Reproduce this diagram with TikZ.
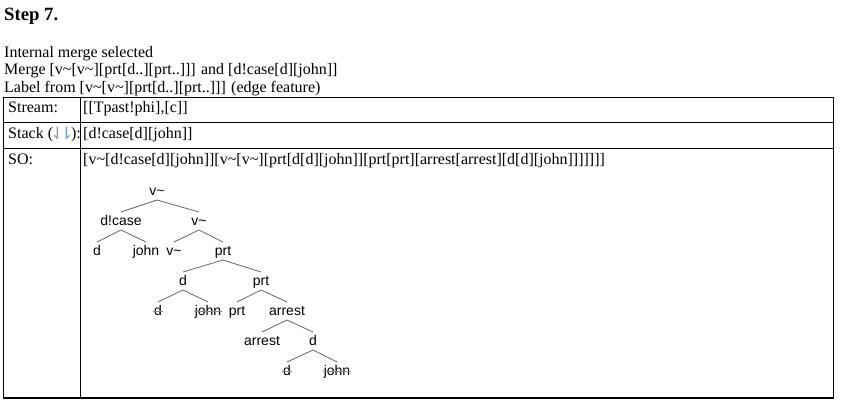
\documentclass[tikz,border=0pt]{standalone}
\usepackage{fontspec}
\setmainfont{Liberation Serif}
\newfontfamily\treefont{Liberation Sans}
\newfontfamily\symfont{DejaVu Sans}
\usetikzlibrary{calc}
\newcommand{\tld}{\char`\~}
\newcommand{\treeedge}[2]{\draw[edgeline] ($(#1.base)+(0,5)$) -- ($(#2.base)+(0,-13)$);}
\newcommand{\strikeout}[1]{\draw[strikeline] ($(#1.base west)+(-0.5,-4)$) -- ($(#1.base east)+(0.5,-4)$);}
\begin{document}
\begin{tikzpicture}[x=1pt,y=-1pt,
  txt/.style={anchor=base west, inner sep=0pt, font=\fontsize{16}{18}\selectfont},
  hd/.style={anchor=base west, inner sep=0pt, font=\fontsize{18.72}{22}\selectfont\bfseries},
  tn/.style={anchor=base, inner sep=0pt, font=\treefont\fontsize{14}{16}\selectfont},
  edgeline/.style={draw=black!60, line width=0.8pt},
  strikeline/.style={draw=black!45, line width=0.8pt},
  rule/.style={line width=1.2pt}
]
\useasboundingbox (0,0) rectangle (841,410);
% heading and lines
\node[hd] (step) at (4,20) {Step 7.};
\node[txt] (l1) at (4,57) {Internal merge selected};
\node[txt] (l2) at (4,74.5) {Merge [v\tld[v\tld][prt[d..][prt..]]] and [d!case[d][john]]};
\node[txt] (l3) at (4,92) {Label from [v\tld[v\tld][prt[d..][prt..]]] (edge feature)};
% table
\draw[rule] (3.5,97.3) rectangle (833.5,398);
\draw[rule] (3.5,122.3) -- (833.5,122.3);
\draw[rule] (3.5,148.3) -- (833.5,148.3);
\draw[rule] (80.5,97.3) -- (80.5,398);
\node[txt] (streamh) at (8,112) {Stream:};
\node[txt] (streamv) at (83,112) {[[Tpast!phi],[c]]};
\node[txt] (stackh) at (8,138) {Stack ({\symfont\fontsize{17}{18}\selectfont\color[HTML]{7F9CC4}\raisebox{-1pt}{\makebox[9pt]{⇃}\makebox[9pt]{⇂}}}):};
\node[txt] (stackv) at (83,138) {[d!case[d][john]]};
\node[txt] (soh) at (8,164) {SO:};
\node[txt] (sov) at (83,164) {[v\tld[d!case[d][john]][v\tld[v\tld][prt[d[d][john]][prt[prt][arrest[arrest][d[d][john]]]]]]]};
% tree
\node[tn] (r) at (157,195) {v\tld};
\node[tn] (dcase) at (121,225) {d!case};
\node[tn] (v1) at (199,225) {v\tld};
\node[tn] (d1) at (97,255) {d};
\node[tn] (j1) at (146,255) {john};
\node[tn] (v2) at (174,255) {v\tld};
\node[tn] (p1) at (223,255) {prt};
\node[tn] (d2) at (183,285) {d};
\node[tn] (p2) at (261,285) {prt};
\node[tn] (d3) at (158,315) {d};
\node[tn] (j3) at (208,315) {john};
\node[tn] (p3) at (237,315) {prt};
\node[tn] (a1) at (287,315) {arrest};
\node[tn] (a2) at (262,345) {arrest};
\node[tn] (d4) at (313,345) {d};
\node[tn] (d5) at (287,375) {d};
\node[tn] (j5) at (337,375) {john};
\treeedge{r}{dcase}
\treeedge{r}{v1}
\treeedge{dcase}{d1}
\treeedge{dcase}{j1}
\treeedge{v1}{v2}
\treeedge{v1}{p1}
\treeedge{p1}{d2}
\treeedge{p1}{p2}
\treeedge{d2}{d3}
\treeedge{d2}{j3}
\treeedge{p2}{p3}
\treeedge{p2}{a1}
\treeedge{a1}{a2}
\treeedge{a1}{d4}
\treeedge{d4}{d5}
\treeedge{d4}{j5}
\strikeout{d3}
\strikeout{j3}
\strikeout{d5}
\strikeout{j5}
\end{tikzpicture}
\end{document}
